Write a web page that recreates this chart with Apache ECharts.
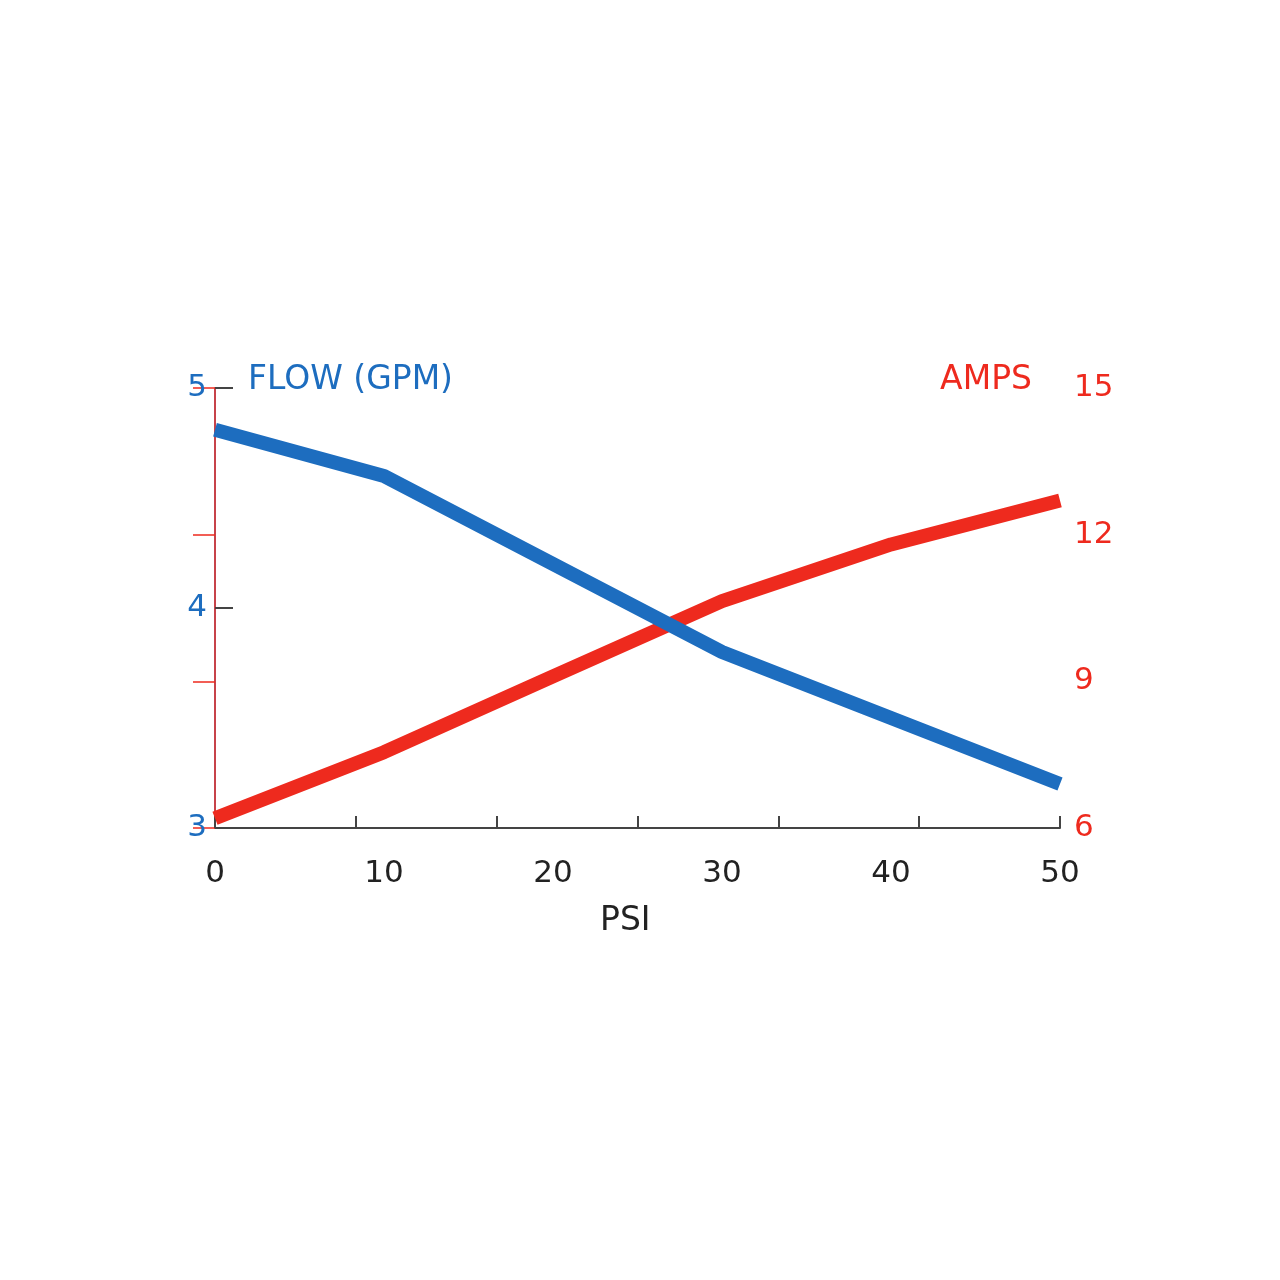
<!DOCTYPE html>
<html>
<head>
<meta charset="utf-8">
<script src="https://cdn.jsdelivr.net/npm/echarts@6/dist/echarts.min.js"></script>
<style>html,body{margin:0;background:#fff}#chart{width:1280px;height:1280px}</style>
</head>
<body>
<div id="chart"></div>
<script>
var psi = [0, 10, 20, 30, 40, 50];
var flow = [4.81, 4.60, 4.20, 3.80, 3.50, 3.20];
var amps = [6.2, 7.55, 9.1, 10.64, 11.8, 12.7];

var blue = '#1d6dbf', red = '#ee2a1e', font = 'DejaVu Sans';
var chart = echarts.init(document.getElementById('chart'));
chart.setOption({
  animation: false,
  grid: { left: 215, right: 220, top: 388, bottom: 452 },
  graphic: [
    { type: 'text', left: 248, top: 364, style: { text: 'FLOW (GPM)', fill: blue, fontSize: 33, fontFamily: font } },
    { type: 'text', right: 248, top: 364, style: { text: 'AMPS', fill: red, fontSize: 33, fontFamily: font } },
    { type: 'text', left: 600, top: 905, style: { text: 'PSI', fill: '#222', fontSize: 33, fontFamily: font } }
  ],
  xAxis: [{
    type: 'value', min: 0, max: 50, interval: 10,
    axisLine: { lineStyle: { color: '#444', width: 2 } },
    axisTick: { show: false }, splitLine: { show: false },
    axisLabel: { color: '#222', fontSize: 31, fontFamily: font, margin: 30 }
  }, {
    type: 'value', min: 0, max: 60, interval: 10, position: 'bottom',
    axisLine: { show: false }, splitLine: { show: false }, axisLabel: { show: false },
    axisTick: { inside: true, length: 12, lineStyle: { color: '#444', width: 2 } }
  }],
  yAxis: [{
    type: 'value', position: 'left', min: 3, max: 5, interval: 1,
    axisLine: { show: true, lineStyle: { color: blue, width: 1.5 } },
    axisTick: { show: true, inside: true, length: 18, lineStyle: { color: '#444', width: 2 } },
    splitLine: { show: false },
    axisLabel: { color: blue, fontSize: 31, fontFamily: font, margin: 8 }
  }, {
    type: 'value', position: 'right', min: 6, max: 15, interval: 3,
    axisLine: { show: true, lineStyle: { color: red, width: 1.5 } },
    axisTick: { show: true, inside: true, length: 22, lineStyle: { color: red, width: 1.5 } },
    splitLine: { show: false },
    axisLabel: { color: red, fontSize: 31, fontFamily: font, margin: 14 }
  }],
  series: [{
    type: 'line', yAxisIndex: 0, showSymbol: false, data: psi.map(function (p, i) { return [p, flow[i]]; }),
    lineStyle: { color: blue, width: 14 }, z: 3
  }, {
    type: 'line', yAxisIndex: 1, showSymbol: false, data: psi.map(function (p, i) { return [p, amps[i]]; }),
    lineStyle: { color: red, width: 14 }, z: 2
  }]
});
</script>
</body>
</html>
